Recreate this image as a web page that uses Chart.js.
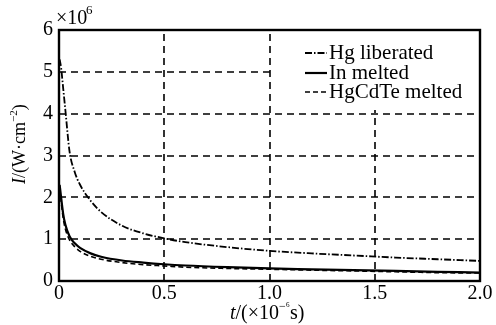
<!DOCTYPE html>
<html>
<head>
<meta charset="utf-8">
<script src="https://cdn.jsdelivr.net/npm/chart.js@4.4.1/dist/chart.umd.min.js"></script>
<style>
  html, body { margin: 0; padding: 0; background: #fff; }
  #wrap { width: 496px; height: 325px; }
</style>
</head>
<body>
<div id="wrap"><canvas id="chart"></canvas></div>
<script>
// time, x10^-6 s
const times = [0.003, 0.01, 0.02, 0.03, 0.05, 0.075, 0.1, 0.15, 0.2, 0.3, 0.4, 0.5, 0.6, 0.8, 1.0, 1.2, 1.4, 1.6, 1.8, 2.0];
// intensity, x10^6 W/cm2
const hgLiberated = [5.3, 5.1, 4.6, 4.1, 3.1, 2.6, 2.3, 1.92, 1.65, 1.32, 1.14, 1.02, 0.93, 0.81, 0.72, 0.66, 0.61, 0.56, 0.52, 0.48];
const inMelted = [2.3, 2.0, 1.6, 1.35, 1.07, 0.9, 0.79, 0.66, 0.58, 0.49, 0.44, 0.4, 0.37, 0.33, 0.3, 0.28, 0.26, 0.24, 0.22, 0.2];
const hgcdteMelted = [2.2, 1.9, 1.5, 1.25, 0.98, 0.82, 0.71, 0.59, 0.52, 0.44, 0.39, 0.36, 0.33, 0.3, 0.28, 0.26, 0.24, 0.22, 0.2, 0.19];
const xTicks = [0, 0.5, 1.0, 1.5, 2.0];
const yTicks = [0, 1, 2, 3, 4, 5, 6];
const seriesNames = ['Hg liberated', 'In melted', 'HgCdTe melted'];

const serif = '"Liberation Serif", "DejaVu Serif", serif';
const dashes = [[7, 2, 1.5, 2], [], [5, 3]];
const widths = [1.8, 2.2, 1.6];

function toPoints(ys) {
    return times.map((t, i) => ({ x: t, y: ys[i] }));
}

const datasets = [hgLiberated, inMelted, hgcdteMelted].map((ys, i) => ({
    label: seriesNames[i],
    data: toPoints(ys),
    showLine: true,
    borderColor: '#000',
    borderWidth: widths[i],
    borderDash: dashes[i],
    pointRadius: 0,
    cubicInterpolationMode: 'monotone'
}));

// dashed grid from the scales, white legend box
const gridPlugin = {
    id: 'gridPlugin',
    beforeDatasetsDraw(chart) {
        const ctx = chart.ctx;
        const a = chart.chartArea;
        const xs = chart.scales.x, ys = chart.scales.y;
        ctx.save();
        ctx.strokeStyle = '#000';
        ctx.lineWidth = 1.6;
        ctx.setLineDash([7, 5]);
        xTicks.slice(1, -1).forEach(v => {
            const px = Math.round(xs.getPixelForValue(v));
            ctx.beginPath();
            ctx.moveTo(px, a.bottom);
            ctx.lineTo(px, a.top);
            ctx.stroke();
        });
        yTicks.slice(1, -1).forEach(v => {
            const py = Math.round(ys.getPixelForValue(v));
            ctx.beginPath();
            ctx.moveTo(a.left, py);
            ctx.lineTo(a.right, py);
            ctx.stroke();
        });
        ctx.setLineDash([]);
        ctx.fillStyle = '#fff';
        ctx.fillRect(272, a.top, a.right - 272, 110 - a.top);
        ctx.restore();
    }
};

// border, legend and axis titles
const decorations = {
    id: 'decorations',
    afterDatasetsDraw(chart) {
        const ctx = chart.ctx;
        const a = chart.chartArea;
        ctx.save();
        ctx.strokeStyle = '#000';
        ctx.lineWidth = 2.4;
        ctx.setLineDash([]);
        ctx.strokeRect(a.left, a.top, a.right - a.left, a.bottom - a.top);

        // legend inside upper right
        ctx.fillStyle = '#000';
        ctx.font = '21px ' + serif;
        ctx.textBaseline = 'middle';
        const lx = 305, ly = [53, 73, 92];
        seriesNames.forEach((name, i) => {
            ctx.beginPath();
            ctx.lineWidth = widths[i];
            ctx.setLineDash(dashes[i]);
            ctx.moveTo(lx, ly[i]);
            ctx.lineTo(lx + 22, ly[i]);
            ctx.stroke();
            ctx.setLineDash([]);
            ctx.fillText(name, lx + 24, ly[i]);
        });

        // multiplier
        ctx.textBaseline = 'alphabetic';
        ctx.font = '20px ' + serif;
        ctx.fillText('\u00d710', 56, 24);
        ctx.font = '13px ' + serif;
        ctx.fillText('6', 86, 14);

        // x title
        let x = 230;
        const y = 319;
        ctx.font = 'italic 20px ' + serif;
        ctx.fillText('t', x, y); x += ctx.measureText('t').width;
        ctx.font = '20px ' + serif;
        ctx.fillText('/(\u00d710', x, y); x += ctx.measureText('/(\u00d710').width;
        ctx.font = '12px ' + serif;
        ctx.fillText('\u2212\u2076', x, y - 9); x += ctx.measureText('\u2212\u2076').width;
        ctx.font = '20px ' + serif;
        ctx.fillText('s)', x, y);

        // y title rotated
        ctx.translate(25, 184);
        ctx.rotate(-Math.PI / 2);
        x = 0;
        ctx.font = 'italic 18px ' + serif;
        ctx.fillText('I', x, 0); x += ctx.measureText('I').width;
        ctx.font = '18px ' + serif;
        ctx.fillText('/(W\u00b7cm', x, 0); x += ctx.measureText('/(W\u00b7cm').width;
        ctx.font = '11px ' + serif;
        ctx.fillText('\u22122', x, -8); x += ctx.measureText('\u22122').width;
        ctx.font = '18px ' + serif;
        ctx.fillText(')', x, 0);
        ctx.restore();
    }
};

new Chart(document.getElementById('chart'), {
    type: 'scatter',
    data: { datasets: datasets },
    options: {
        responsive: true,
        maintainAspectRatio: false,
        animation: false,
        layout: { padding: { top: 30, right: 16, left: 0, bottom: 0 } },
        plugins: {
            legend: { display: false },
            tooltip: { enabled: false }
        },
        scales: {
            x: {
                type: 'linear',
                min: 0,
                max: 2,
                afterBuildTicks: s => { s.ticks = xTicks.map(v => ({ value: v })); },
                afterFit: s => { s.height = 44; },
                ticks: {
                    color: '#000',
                    font: { family: serif, size: 20 },
                    padding: 1,
                    callback: v => (v === 0 ? '0' : v.toFixed(1))
                },
                grid: { display: false, drawTicks: false },
                border: { display: false }
            },
            y: {
                min: 0,
                max: 6,
                afterBuildTicks: s => { s.ticks = yTicks.map(v => ({ value: v })); },
                afterFit: s => { s.width = 59; },
                ticks: {
                    color: '#000',
                    font: { family: serif, size: 20 },
                    padding: 6
                },
                grid: { display: false, drawTicks: false },
                border: { display: false }
            }
        }
    },
    plugins: [gridPlugin, decorations]
});
</script>
</body>
</html>
